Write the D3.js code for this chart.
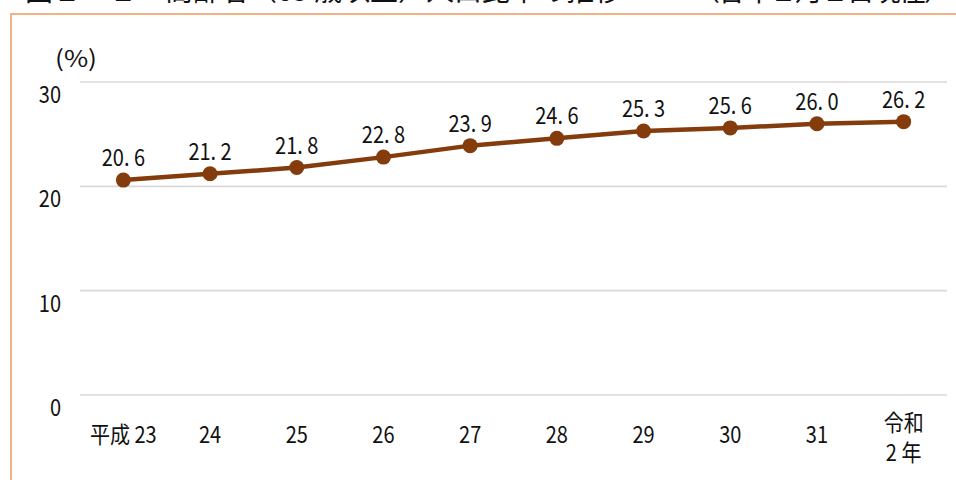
<!DOCTYPE html>
<html>
<head>
<meta charset="utf-8">
<script src="https://cdn.jsdelivr.net/npm/d3@7"></script>
<style>
  html, body { margin: 0; padding: 0; background: #fff; }
  svg { display: block; }
  text { font-family: "Noto Sans CJK JP", "Noto Sans", sans-serif; fill: #111; }
</style>
</head>
<body>
<svg id="chart" width="956" height="480"></svg>
<script>
// 高齢者（65歳以上）人口比率の推移
const years = ["平成 23", "24", "25", "26", "27", "28", "29", "30", "31", "令和\n2 年"];
const ratio = [20.6, 21.2, 21.8, 22.8, 23.9, 24.6, 25.3, 25.6, 26.0, 26.2];
const yTicks = [0, 10, 20, 30];
const titleMain = "図２－１　高齢者（65 歳以上）人口比率の推移";
const titleNote = "（各年１月１日現在）";

const svg = d3.select("#chart");
const W = 956, H = 480;
const SX = 0.87;           // narrow glyph width
const FS = 23;

const x = d3.scaleBand().domain(years).range([80, 947]);
const y = d3.scaleLinear().domain([0, 30]).range([395, 82]);
const cx = d => x(d) + x.bandwidth() / 2;

// title (runs off the top edge)
svg.append("text").attr("x", 25).attr("y", 1)
  .attr("font-size", 28).attr("textLength", 597).attr("lengthAdjust", "spacing")
  .text(titleMain);
svg.append("text").attr("x", 692).attr("y", 1)
  .attr("font-size", 28).attr("textLength", 260).attr("lengthAdjust", "spacing")
  .text(titleNote);

// frame
svg.append("path")
  .attr("d", `M11,${H} L11,14 L${W},14`)
  .attr("fill", "none").attr("stroke", "#F4B183").attr("stroke-width", 2);

// gridlines
svg.append("g").selectAll("line").data(yTicks).join("line")
  .attr("x1", 80).attr("x2", 947)
  .attr("y1", d => y(d)).attr("y2", d => y(d))
  .attr("stroke", "#D9D9D9").attr("stroke-width", 1.6);

function narrowText(g, tx, ty, str, anchor) {
  return g.append("text")
    .attr("transform", `translate(${tx},${ty}) scale(${SX},1)`)
    .attr("font-size", FS).attr("text-anchor", anchor)
    .attr("xml:space", "preserve").style("white-space", "pre")
    .text(str);
}

// y-axis labels
const yl = svg.append("g");
yTicks.forEach(v => narrowText(yl, 61, y(v) + 21, String(v), "end"));
svg.append("text").attr("x", 55).attr("y", 67)
  .attr("font-size", 23).attr("textLength", 42).attr("lengthAdjust", "spacingAndGlyphs")
  .text("(%)");

// x-axis labels
const xl = svg.append("g");
years.forEach(c => {
  const lines = c.split("\n");
  if (lines.length === 1) {
    narrowText(xl, cx(c), 443, lines[0], "middle");
  } else {
    lines.forEach((s, i) => narrowText(xl, cx(c), 431 + i * 30, s, "middle"));
  }
});

// line
const line = d3.line().x((d, i) => cx(years[i])).y(d => y(d));
svg.append("path").datum(ratio)
  .attr("d", line).attr("fill", "none")
  .attr("stroke", "#843C0C").attr("stroke-width", 4.5)
  .attr("stroke-linejoin", "round");

// markers
svg.append("g").selectAll("circle").data(ratio).join("circle")
  .attr("cx", (d, i) => cx(years[i])).attr("cy", d => y(d))
  .attr("r", 7.5).attr("fill", "#843C0C");

// value labels
const vl = svg.append("g");
ratio.forEach((v, i) => {
  narrowText(vl, cx(years[i]), y(v) - 14, v.toFixed(1).replace(".", ". "), "middle");
});
</script>
</body>
</html>
